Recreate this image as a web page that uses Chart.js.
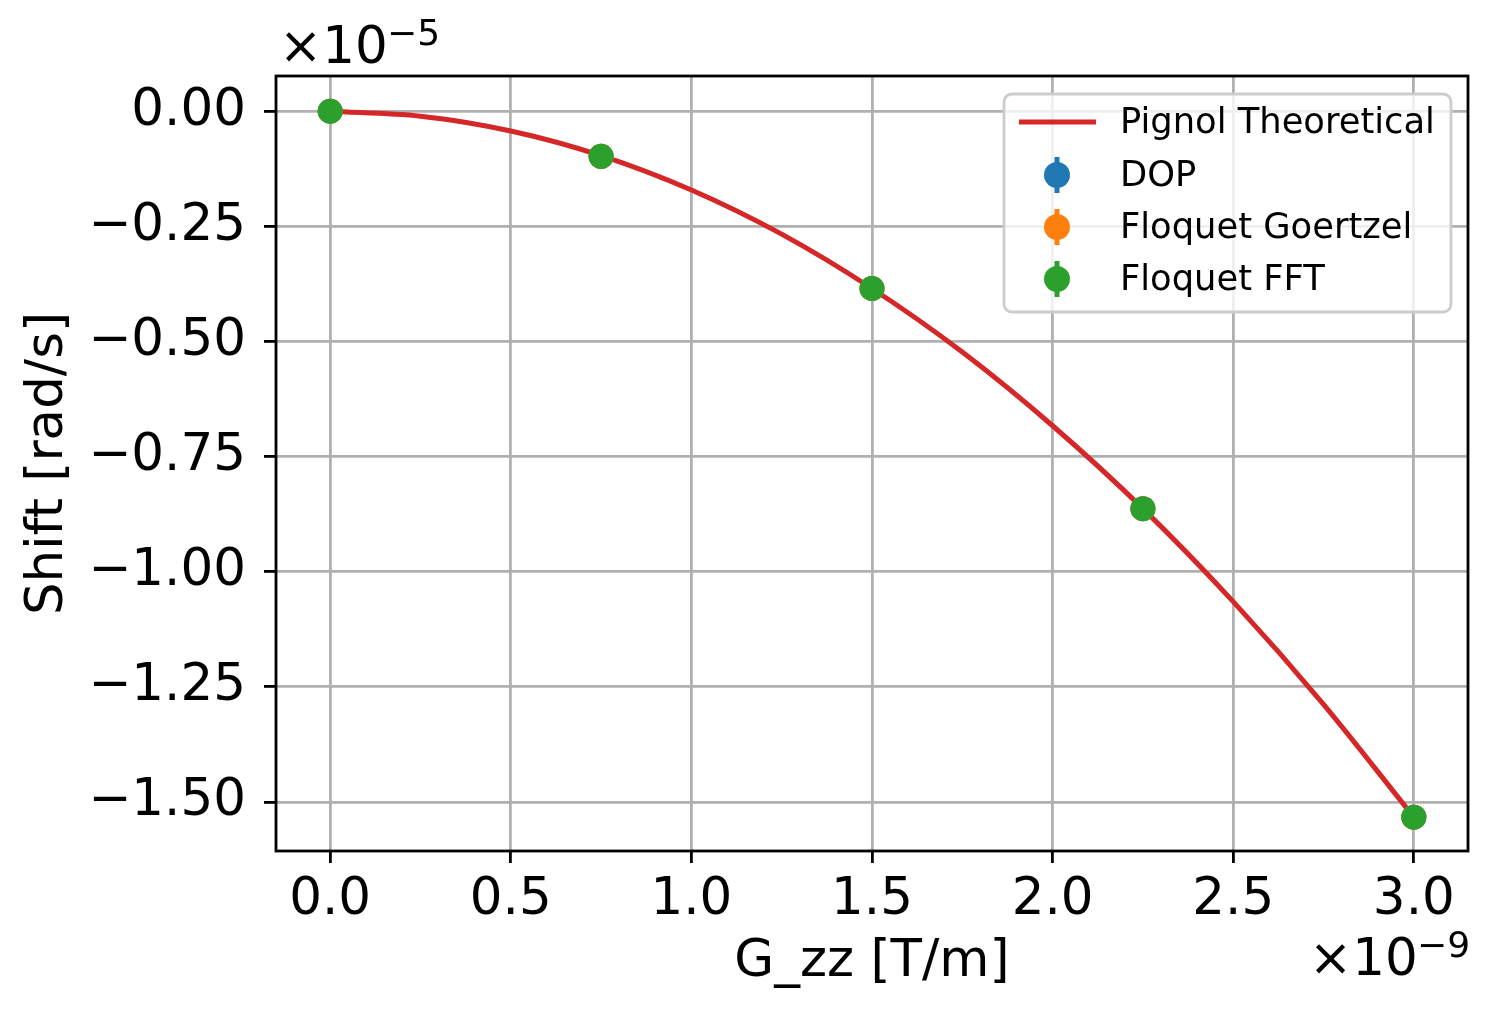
<!DOCTYPE html>
<html>
<head>
<meta charset="utf-8">
<script src="https://cdn.jsdelivr.net/npm/chart.js@4.4.1/dist/chart.umd.min.js"></script>
<style>
  html, body { margin: 0; padding: 0; background: #fff; }
  canvas { display: block; }
</style>
</head>
<body>
<canvas id="shift_chart" width="1495" height="1017"></canvas>
<script>
// G_zz in units of 1e-9 T/m, shift in units of 1e-5 rad/s
var curveX = [0, 0.25, 0.5, 0.75, 1.0, 1.25, 1.5, 1.75, 2.0, 2.25, 2.5, 2.75, 3.0];
var curveY = [0, -0.0107, -0.0428, -0.0963, -0.171, -0.267, -0.385, -0.523, -0.683, -0.863, -1.065, -1.288, -1.533];

var gzz = [0, 0.75, 1.5, 2.25, 3.0];
var dopShift = [0, -0.098, -0.385, -0.863, -1.533];
var goertzelShift = [0, -0.098, -0.385, -0.863, -1.533];
var fftShift = [0, -0.098, -0.385, -0.863, -1.533];

var xTicks = [0, 0.5, 1.0, 1.5, 2.0, 2.5, 3.0];
var yTicks = [0, -0.25, -0.5, -0.75, -1.0, -1.25, -1.5];

var legendNames = ['Pignol Theoretical', 'DOP', 'Floquet Goertzel', 'Floquet FFT'];
var colors = ['#d62728', '#1f77b4', '#ff7f0e', '#2ca02c'];

var FONT = "'DejaVu Sans', sans-serif";
var BIG = 51.5;

function pts(xs, ys) {
    var out = [];
    for (var i = 0; i < xs.length; ++i) out.push({x: xs[i], y: ys[i]});
    return out;
}

var extras = {
    id: 'extras',
    afterDraw: function(chart) {
        var ctx = chart.ctx;
        var a = chart.chartArea;
        ctx.save();
        // frame
        ctx.strokeStyle = '#000';
        ctx.lineWidth = 2.8;
        ctx.strokeRect(a.left, a.top, a.right - a.left, a.bottom - a.top);

        // offset texts
        ctx.fillStyle = '#000';
        ctx.textBaseline = 'alphabetic';
        ctx.textAlign = 'left';
        ctx.font = BIG + 'px ' + FONT;
        ctx.fillText('\u00d710', 279, 63);
        ctx.fillText('\u00d710', 1309, 975);
        ctx.font = '36px ' + FONT;
        ctx.fillText('\u22125', 387, 45);
        ctx.fillText('\u22129', 1417, 957);

        // legend
        var lx = 1004, ly = 94, lw = 447, lh = 218, r = 8;
        ctx.beginPath();
        ctx.moveTo(lx + r, ly);
        ctx.arcTo(lx + lw, ly, lx + lw, ly + lh, r);
        ctx.arcTo(lx + lw, ly + lh, lx, ly + lh, r);
        ctx.arcTo(lx, ly + lh, lx, ly, r);
        ctx.arcTo(lx, ly, lx + lw, ly, r);
        ctx.closePath();
        ctx.fillStyle = 'rgba(255,255,255,0.8)';
        ctx.fill();
        ctx.strokeStyle = '#cccccc';
        ctx.lineWidth = 2.8;
        ctx.stroke();

        var rows = [122, 175, 227, 279];
        ctx.font = '35.3px ' + FONT;
        ctx.textBaseline = 'middle';
        for (var i = 0; i < legendNames.length; ++i) {
            var y = rows[i];
            if (i === 0) {
                ctx.strokeStyle = colors[0];
                ctx.lineWidth = 5;
                ctx.beginPath();
                ctx.moveTo(1019, y);
                ctx.lineTo(1096, y);
                ctx.stroke();
            } else {
                ctx.strokeStyle = colors[i];
                ctx.lineWidth = 5;
                ctx.beginPath();
                ctx.moveTo(1057, y - 18);
                ctx.lineTo(1057, y + 18);
                ctx.stroke();
                ctx.fillStyle = colors[i];
                ctx.beginPath();
                ctx.arc(1057, y, 13, 0, Math.PI * 2);
                ctx.fill();
            }
            ctx.fillStyle = '#000';
            ctx.fillText(legendNames[i], 1120, y + 2);
        }
        ctx.restore();
    }
};

var ctx = document.getElementById('shift_chart').getContext('2d');
var chart = new Chart(ctx, {
    type: 'scatter',
    data: {
        datasets: [{
            label: legendNames[0],
            data: pts(curveX, curveY),
            showLine: true,
            borderColor: colors[0],
            borderWidth: 5,
            pointRadius: 0,
            cubicInterpolationMode: 'monotone',
            order: 4
        }, {
            label: legendNames[1],
            data: pts(gzz, dopShift),
            backgroundColor: colors[1],
            borderWidth: 0,
            pointRadius: 12.5,
            order: 3
        }, {
            label: legendNames[2],
            data: pts(gzz, goertzelShift),
            backgroundColor: colors[2],
            borderWidth: 0,
            pointRadius: 12.5,
            order: 2
        }, {
            label: legendNames[3],
            data: pts(gzz, fftShift),
            backgroundColor: colors[3],
            borderWidth: 0,
            pointRadius: 12.5,
            order: 1
        }]
    },
    options: {
        responsive: false,
        animation: false,
        devicePixelRatio: 1,
        layout: { padding: { left: 0, right: 27, top: 76, bottom: 0 } },
        plugins: {
            legend: { display: false },
            tooltip: { enabled: false }
        },
        scales: {
            x: {
                type: 'linear',
                min: -0.15,
                max: 3.15,
                afterBuildTicks: function(scale) {
                    scale.ticks = xTicks.map(function(v) { return {value: v}; });
                },
                afterFit: function(scale) { scale.height = 166; },
                grid: { color: '#b0b0b0', lineWidth: 2.8, tickLength: 12, tickColor: '#000', tickWidth: 2.8 },
                border: { display: false },
                ticks: {
                    color: '#000',
                    font: { family: FONT, size: BIG },
                    padding: 7,
                    maxRotation: 0,
                    callback: function(v) { return v.toFixed(1); }
                },
                title: {
                    display: true,
                    text: 'G_zz [T/m]',
                    color: '#000',
                    font: { family: FONT, size: BIG },
                    padding: { top: 0, bottom: 23 }
                }
            },
            y: {
                type: 'linear',
                min: -1.6065,
                max: 0.0765,
                afterBuildTicks: function(scale) {
                    scale.ticks = yTicks.map(function(v) { return {value: v}; });
                },
                afterFit: function(scale) { scale.width = 276; },
                grid: { color: '#b0b0b0', lineWidth: 2.8, tickLength: 12, tickColor: '#000', tickWidth: 2.8 },
                border: { display: false },
                ticks: {
                    color: '#000',
                    font: { family: FONT, size: BIG },
                    padding: 18,
                    callback: function(v) { return v.toFixed(2).replace('-', '\u2212'); }
                },
                title: {
                    display: true,
                    text: 'Shift [rad/s]',
                    color: '#000',
                    font: { family: FONT, size: BIG },
                    padding: { top: 18, bottom: 0 }
                }
            }
        }
    },
    plugins: [extras]
});
</script>
</body>
</html>
